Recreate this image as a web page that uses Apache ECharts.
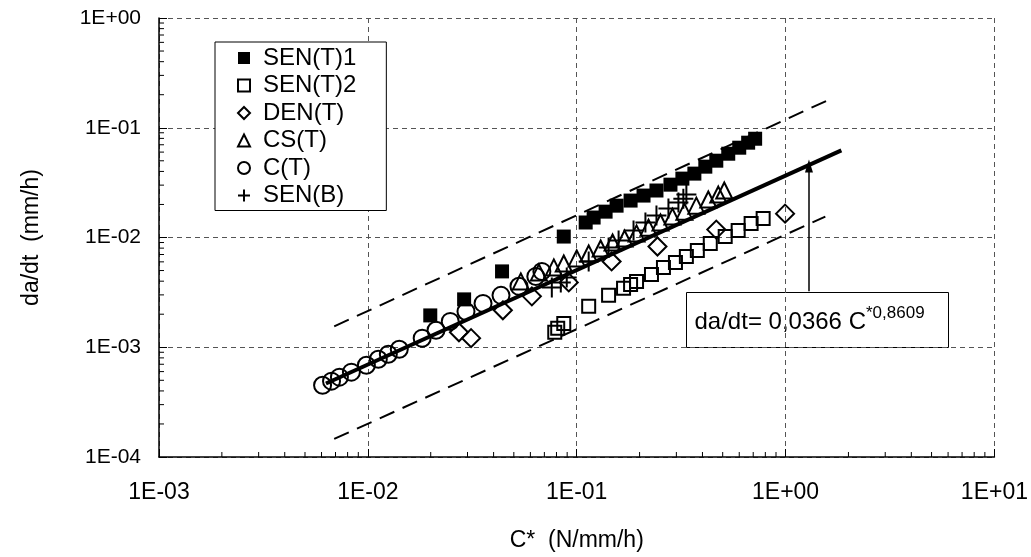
<!DOCTYPE html>
<html>
<head>
<meta charset="utf-8">
<script src="https://cdn.jsdelivr.net/npm/echarts@6/dist/echarts.min.js"></script>
<style>
html,body{margin:0;padding:0;background:#fff;}
#chart{width:1031px;height:557px;}
</style>
</head>
<body>
<div id="chart"></div>
<script>
// ---- data ----
const xTicks = [0.001, 0.01, 0.1, 1, 10];
const yTicks = [0.0001, 0.001, 0.01, 0.1, 1];
const minorMultipliers = [2, 3, 4, 5, 6, 7, 8, 9];

const senT1 = [[0.0199,0.00195],[0.0289,0.00273],[0.0439,0.00491],[0.0867,0.0102],[0.1104,0.0137],[0.1205,0.0152],[0.1375,0.0172],[0.1552,0.0195],[0.1811,0.0217],[0.2089,0.0241],[0.2409,0.0268],[0.2811,0.0303],[0.3206,0.0344],[0.3659,0.0382],[0.4128,0.0442],[0.4659,0.0501],[0.5315,0.0580],[0.600,0.0658],[0.662,0.0731],[0.715,0.0794]];
const senT2 = [[0.0785,0.00137],[0.0811,0.00149],[0.0867,0.00165],[0.1141,0.00236],[0.1421,0.00297],[0.1676,0.00344],[0.1811,0.00374],[0.1934,0.00398],[0.228,0.00461],[0.2602,0.00534],[0.297,0.00593],[0.335,0.00672],[0.378,0.00762],[0.436,0.00882],[0.514,0.0102],[0.593,0.0116],[0.684,0.0134],[0.781,0.0149]];
const denT = [[0.0273,0.00137],[0.0312,0.00121],[0.0443,0.00217],[0.061,0.00291],[0.0916,0.0039],[0.1469,0.00605],[0.2436,0.00828],[0.4659,0.0118],[0.9945,0.0165]];
const csT = [[0.054,0.00398],[0.0659,0.00481],[0.0777,0.00534],[0.0867,0.0058],[0.1,0.00645],[0.1141,0.00715],[0.1302,0.00794],[0.1485,0.00901],[0.1695,0.0098],[0.1934,0.0109],[0.2207,0.0123],[0.2518,0.0137],[0.2873,0.0155],[0.3278,0.0172],[0.3739,0.0195],[0.4266,0.0222],[0.4763,0.0246],[0.5087,0.0268]];
const cT = [[0.00607,0.000451],[0.0067,0.000491],[0.00731,0.000534],[0.00834,0.000593],[0.00984,0.000686],[0.01122,0.000778],[0.01253,0.000864],[0.01414,0.000959],[0.0182,0.00121],[0.0212,0.00143],[0.0248,0.00172],[0.0295,0.00212],[0.0356,0.00251],[0.0434,0.00297],[0.0529,0.00359],[0.0637,0.00442],[0.0681,0.00491]];
const senB = [[0.076,0.00351],[0.0839,0.0039],[0.0896,0.00433],[0.1141,0.00605],[0.1421,0.00811],[0.1587,0.00939],[0.1871,0.0116],[0.2133,0.0137],[0.2409,0.0159],[0.2749,0.0184],[0.3069,0.0208],[0.324,0.0226],[0.335,0.0246]];

const fitLine = [[0.0063,0.000467],[1.85,0.0622]];
const upperBand = [[0.0069,0.00155],[1.69,0.1875]];
const lowerBand = [[0.0069,0.000146],[1.55,0.0155]];
const arrowFrom = [1.294,0.00323];
const arrowTo = [1.294,0.0448];

const seriesNames = ['SEN(T)1','SEN(T)2','DEN(T)','CS(T)','C(T)','SEN(B)'];

// ---- build ----
const FONT = '"Liberation Sans", Arial, sans-serif';
const fmt = v => { const e = Math.round(Math.log10(v)); return '1E' + (e < 0 ? '-' : '+') + String(Math.abs(e)).padStart(2,'0'); };

const minorX = [], minorY = [];
for (let i = 0; i < xTicks.length - 1; i++) minorMultipliers.forEach(m => minorX.push(xTicks[i]*m));
for (let i = 0; i < yTicks.length - 1; i++) minorMultipliers.forEach(m => minorY.push(yTicks[i]*m));
const xMin = xTicks[0], xMax = xTicks[xTicks.length-1], yMin = yTicks[0], yMax = yTicks[yTicks.length-1];
const tickData = minorX.map(v => [v, yMin, 0]).concat(minorY.map(v => [xMin, v, 1]));

const openStyle = {color:'rgba(0,0,0,0)', borderColor:'#000', borderWidth:2, opacity:1};
const plusPath = 'path://M0,5L10,5M5,0L5,10';

const chart = echarts.init(document.getElementById('chart'), null, {renderer:'canvas'});
chart.setOption({
  animation:false,
  backgroundColor:'#fff',
  grid:{left:159, right:34, top:18, bottom:99, containLabel:false},
  xAxis:{type:'log', logBase:10, min:xMin, max:xMax,
    name:'C*  (N/mm/h)', nameLocation:'middle', nameGap:72,
    nameTextStyle:{fontSize:23, fontFamily:FONT, color:'#000'},
    axisLine:{show:true, onZero:false, lineStyle:{color:'#000', width:1.5}},
    axisTick:{show:true, inside:true, length:8, lineStyle:{color:'#000'}},
    axisLabel:{formatter:fmt, fontSize:23, fontFamily:FONT, color:'#000', margin:24, showMinLabel:true, showMaxLabel:true},
    splitLine:{show:true, lineStyle:{type:[5,4], color:'#555', width:1}}},
  yAxis:{type:'log', logBase:10, min:yMin, max:yMax,
    name:'da/dt  (mm/h)', nameLocation:'middle', nameGap:116, nameRotate:90,
    nameTextStyle:{fontSize:23, fontFamily:FONT, color:'#000'},
    axisLine:{show:true, onZero:false, lineStyle:{color:'#000', width:1.5}},
    axisTick:{show:true, inside:true, length:8, lineStyle:{color:'#000'}},
    axisLabel:{formatter:fmt, fontSize:21, fontFamily:FONT, color:'#000', margin:18, showMinLabel:true, showMaxLabel:true},
    splitLine:{show:true, lineStyle:{type:[5,4], color:'#555', width:1}}},
  legend:{orient:'vertical', left:215, top:42, data:seriesNames,
    backgroundColor:'#fff', borderColor:'#000', borderWidth:1, borderRadius:0,
    padding:[4,30,3,22], itemGap:3.5, itemWidth:12, itemHeight:12,
    textStyle:{fontSize:24, fontFamily:FONT, color:'#000', lineHeight:22, padding:[0,0,0,8]}},
  series:[
    {type:'custom', silent:true, z:1, clip:false, data:tickData, encode:{x:0,y:1},
     renderItem:(params, api) => {
       const p = api.coord([api.value(0), api.value(1)]);
       const horiz = api.value(2) === 1;
       const s = horiz ? {x1:p[0], y1:p[1], x2:p[0]+5, y2:p[1]} : {x1:p[0], y1:p[1], x2:p[0], y2:p[1]-5};
       return {type:'line', shape:s, style:{stroke:'#000', lineWidth:1}};
     }},
    {type:'line', name:'upper', data:upperBand, showSymbol:false, symbol:'none', silent:true, z:2,
     lineStyle:{color:'#000', width:2, type:[16,9]}},
    {type:'line', name:'lower', data:lowerBand, showSymbol:false, symbol:'none', silent:true, z:2,
     lineStyle:{color:'#000', width:2, type:[16,9]}},
    {type:'scatter', name:'SEN(T)1', data:senT1, symbol:'rect', symbolSize:14, itemStyle:{color:'#000', opacity:1}, z:3},
    {type:'scatter', name:'SEN(T)2', data:senT2, symbol:'rect', symbolSize:13, itemStyle:openStyle, z:3},
    {type:'scatter', name:'DEN(T)', data:denT, symbol:'diamond', symbolSize:[18,18], itemStyle:openStyle, z:3},
    {type:'scatter', name:'CS(T)', data:csT, symbol:'triangle', symbolSize:[16,16], itemStyle:openStyle, z:3},
    {type:'scatter', name:'C(T)', data:cT, symbol:'circle', symbolSize:17, itemStyle:openStyle, z:3},
    {type:'scatter', name:'SEN(B)', data:senB, symbol:plusPath, symbolSize:20, itemStyle:{color:'rgba(0,0,0,0)', borderColor:'#000', borderWidth:2, opacity:1}, z:3},
    {type:'line', name:'fit', data:fitLine, showSymbol:false, symbol:'none', silent:true, z:4,
     lineStyle:{color:'#000', width:4},
     markLine:{silent:true, symbol:['none','triangle'], symbolSize:[8,13], label:{show:false},
       lineStyle:{color:'#000', width:1.5, type:'solid'},
       data:[[{coord:arrowFrom},{coord:arrowTo}]]}}
  ],
  graphic:[
    {type:'group', left:686, top:292, z:100, children:[
      {type:'rect', shape:{x:0, y:0, width:262, height:55}, style:{fill:'#fff', stroke:'#000', lineWidth:1}},
      {type:'text', x:8, y:12, style:{text:'{a|da/dt= 0,0366 C}{s|*0,8609}', fill:'#000',
        rich:{a:{fontSize:24, fontFamily:FONT, lineHeight:30, verticalAlign:'bottom'},
              s:{fontSize:17, fontFamily:FONT, lineHeight:17, verticalAlign:'top'}}}}
    ]}
  ]
});
</script>
</body>
</html>
